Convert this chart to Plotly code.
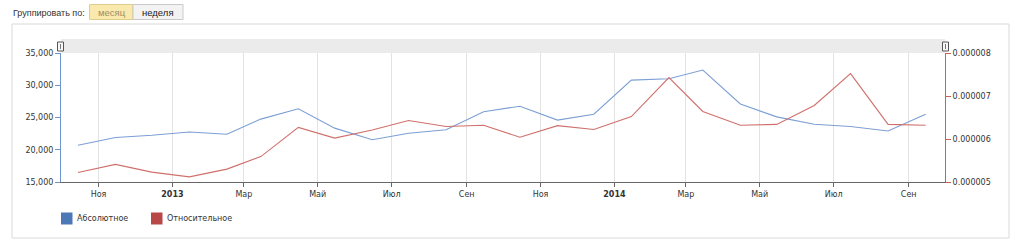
import plotly.graph_objects as go

# ---- data ----
months = ["2012-10", "2012-11", "2012-12", "2013-01", "2013-02", "2013-03",
          "2013-04", "2013-05", "2013-06", "2013-07", "2013-08", "2013-09",
          "2013-10", "2013-11", "2013-12", "2014-01", "2014-02", "2014-03",
          "2014-04", "2014-05", "2014-06", "2014-07", "2014-08", "2014-09"]
absolute = [20700, 21900, 22250, 22750, 22400, 24750, 26350, 23350, 21550, 22550, 23100, 25900,
            26750, 24600, 25500, 30800, 31000, 32350, 27100, 25100, 23950, 23600, 22900, 25500]
relative = [5.22e-6, 5.41e-6, 5.23e-6, 5.12e-6, 5.30e-6, 5.59e-6, 6.27e-6, 6.02e-6, 6.21e-6, 6.43e-6, 6.29e-6, 6.32e-6,
            6.04e-6, 6.31e-6, 6.22e-6, 6.52e-6, 7.43e-6, 6.64e-6, 6.32e-6, 6.34e-6, 6.78e-6, 7.52e-6, 6.34e-6, 6.32e-6]
x_tick_vals = ["2012-11-01", "2013-01-01", "2013-03-01", "2013-05-01", "2013-07-01", "2013-09-01",
               "2013-11-01", "2014-01-01", "2014-03-01", "2014-05-01", "2014-07-01", "2014-09-01"]
x_tick_text = ["Ноя", "<b>2013</b>", "Мар", "Май", "Июл", "Сен",
               "Ноя", "<b>2014</b>", "Мар", "Май", "Июл", "Сен"]
y1_ticks = [15000, 20000, 25000, 30000, 35000]
y2_ticks = [5e-6, 6e-6, 7e-6, 8e-6]
y2_text = ["0.000005", "0.000006", "0.000007", "0.000008"]
series_names = ["Абсолютное", "Относительное"]

BLUE_LINE = "#7c9fd4"
RED_LINE = "#cf706c"
BLUE_AXIS = "#6f95cf"
RED_AXIS = "#c8605b"
BLUE_SQ = "#4c78b7"
RED_SQ = "#b84848"

W, H = 1024, 247
L, R, T, B = 61, 945, 53, 182

def xp(X):
    return (X - L) / (R - L)

def yp(Y):
    return (B - Y) / (B - T)

x_dates = [m + "-15" for m in months]

fig = go.Figure()
fig.add_trace(go.Scatter(x=x_dates, y=absolute, mode="lines", name=series_names[0],
                         line=dict(color=BLUE_LINE, width=1.1), yaxis="y"))
fig.add_trace(go.Scatter(x=x_dates, y=relative, mode="lines", name=series_names[1],
                         line=dict(color=RED_LINE, width=1.1), yaxis="y2"))

tickfont = dict(family="DejaVu Sans, Verdana, sans-serif", size=8, color="#333333")

fig.update_layout(
    width=W, height=H,
    margin=dict(l=L, r=W - R, t=T, b=H - B, pad=0),
    paper_bgcolor="white", plot_bgcolor="white",
    showlegend=False,
    xaxis=dict(type="date", range=["2012-10-01", "2014-10-01"],
               tickvals=x_tick_vals, ticktext=x_tick_text, tickfont=tickfont,
               showgrid=True, gridcolor="#e3e3e3", gridwidth=1,
               showline=True, linecolor="#666666", linewidth=1,
               ticks="outside", ticklen=4, tickcolor="#666666", zeroline=False),
    yaxis=dict(range=[15000, 35000], tickvals=y1_ticks, tickformat=",", tickfont=tickfont,
               showgrid=False, zeroline=False, showline=True, linecolor=BLUE_AXIS, linewidth=1,
               ticks="outside", ticklen=5, tickcolor=BLUE_AXIS),
    yaxis2=dict(range=[5e-6, 8e-6], tickvals=y2_ticks, ticktext=y2_text, tickfont=tickfont,
                overlaying="y", side="right", showgrid=False, zeroline=False,
                showline=True, linecolor=RED_AXIS, linewidth=1,
                ticks="outside", ticklen=5, tickcolor=RED_AXIS),
)

shapes = []
annots = []
# container box
shapes.append(dict(type="rect", xref="paper", yref="paper", layer="below",
                   x0=xp(12), x1=xp(1009), y0=yp(238), y1=yp(24),
                   line=dict(color="#d9d9d9", width=1), fillcolor="rgba(0,0,0,0)"))
# navigator band
shapes.append(dict(type="rect", xref="paper", yref="paper",
                   x0=xp(61), x1=xp(945), y0=yp(53), y1=yp(39),
                   line=dict(width=0), fillcolor="#ebebeb"))
# handles
for hx in (57.5, 942.5):
    shapes.append(dict(type="rect", xref="paper", yref="paper",
                       x0=xp(hx), x1=xp(hx + 6), y0=yp(51), y1=yp(42),
                       line=dict(color="#555555", width=1), fillcolor="#f8f8f8"))
    shapes.append(dict(type="line", xref="paper", yref="paper",
                       x0=xp(hx + 3), x1=xp(hx + 3), y0=yp(49), y1=yp(44),
                       line=dict(color="#777777", width=1)))
# buttons
shapes.append(dict(type="rect", xref="paper", yref="paper",
                   x0=xp(89.5), x1=xp(133), y0=yp(19.5), y1=yp(4.5),
                   line=dict(color="#e2cc8c", width=1), fillcolor="#fae9ac"))
shapes.append(dict(type="rect", xref="paper", yref="paper",
                   x0=xp(133), x1=xp(183), y0=yp(19.5), y1=yp(4.5),
                   line=dict(color="#c9c9c9", width=1), fillcolor="#f3f3f3"))
annots.append(dict(text="Группировать по:", xref="paper", yref="paper", x=xp(11), y=yp(12.5),
                   xanchor="left", yanchor="middle", showarrow=False,
                   font=dict(family="Liberation Sans, Arial, sans-serif", size=9, color="#333333")))
annots.append(dict(text="месяц", xref="paper", yref="paper", x=xp(111.5), y=yp(12.5),
                   xanchor="center", yanchor="middle", showarrow=False,
                   font=dict(family="Liberation Sans, Arial, sans-serif", size=9.5, color="#9c8d66")))
annots.append(dict(text="неделя", xref="paper", yref="paper", x=xp(158), y=yp(12.5),
                   xanchor="center", yanchor="middle", showarrow=False,
                   font=dict(family="Liberation Sans, Arial, sans-serif", size=9.5, color="#222222")))
# legend
for sx, tx, col, name in ((61, 75, BLUE_SQ, series_names[0]), (151, 165, RED_SQ, series_names[1])):
    shapes.append(dict(type="rect", xref="paper", yref="paper",
                       x0=xp(sx), x1=xp(sx + 11.5), y0=yp(224.5), y1=yp(212.5),
                       line=dict(width=0), fillcolor=col))
    annots.append(dict(text=name, xref="paper", yref="paper", x=xp(tx), y=yp(218.5),
                       xanchor="left", yanchor="middle", showarrow=False,
                       font=dict(family="DejaVu Sans, Verdana, sans-serif", size=8, color="#333333")))

fig.update_layout(shapes=shapes, annotations=annots)
fig.write_html("out.html")
